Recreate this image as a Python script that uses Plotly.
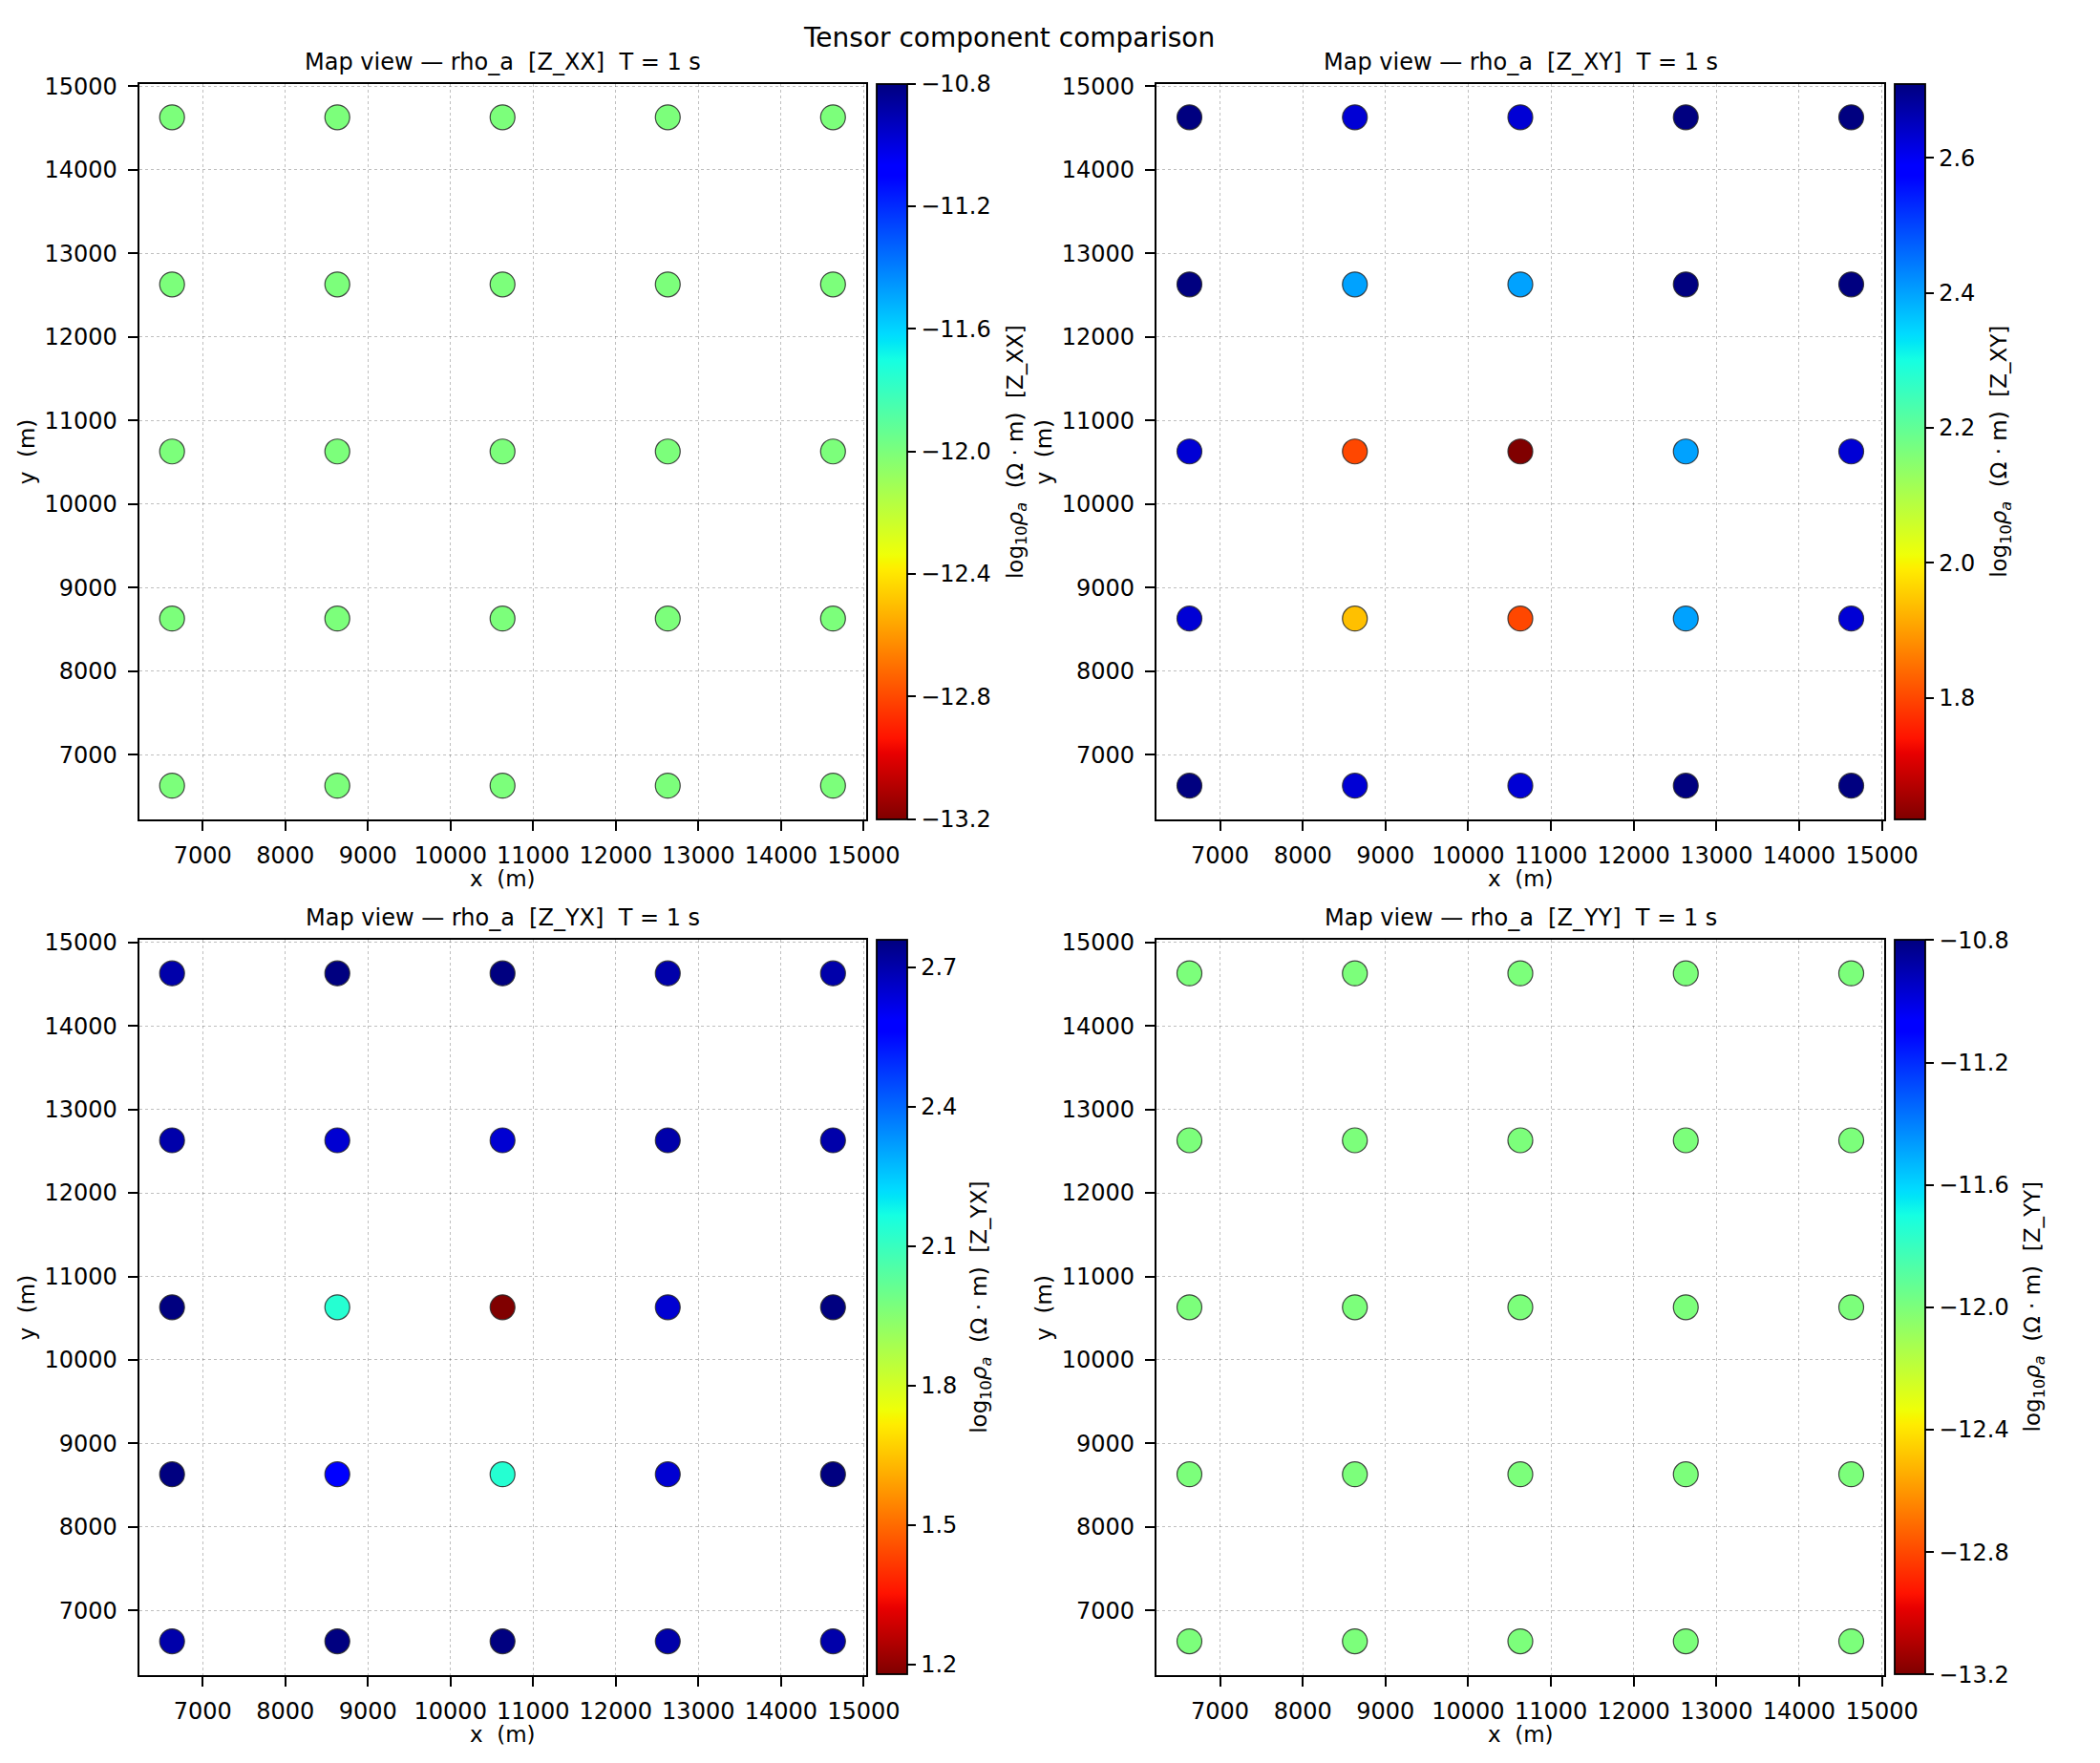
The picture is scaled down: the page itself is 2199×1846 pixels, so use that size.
import numpy as np
import plotly.graph_objects as go

# station grid (m)
x_stations = [6630, 8630, 10630, 12630, 14630]
y_stations = [6630, 8630, 10630, 12630, 14630]

# log10 rho_a at T = 1 s, one row per y station (south -> north)
rho_xx = [
    [-12.0, -12.0, -12.0, -12.0, -12.0],
    [-12.0, -12.0, -12.0, -12.0, -12.0],
    [-12.0, -12.0, -12.0, -12.0, -12.0],
    [-12.0, -12.0, -12.0, -12.0, -12.0],
    [-12.0, -12.0, -12.0, -12.0, -12.0],
]
rho_xy = [
    [2.71, 2.63, 2.63, 2.71, 2.71],
    [2.63, 1.94, 1.80, 2.40, 2.63],
    [2.63, 1.80, 1.62, 2.40, 2.63],
    [2.71, 2.40, 2.40, 2.71, 2.71],
    [2.71, 2.63, 2.63, 2.71, 2.71],
]
rho_yx = [
    [2.70, 2.758, 2.758, 2.70, 2.70],
    [2.758, 2.57, 2.135, 2.646, 2.758],
    [2.758, 2.135, 1.178, 2.646, 2.758],
    [2.70, 2.646, 2.646, 2.70, 2.70],
    [2.70, 2.758, 2.758, 2.70, 2.70],
]
rho_yy = [
    [-12.0, -12.0, -12.0, -12.0, -12.0],
    [-12.0, -12.0, -12.0, -12.0, -12.0],
    [-12.0, -12.0, -12.0, -12.0, -12.0],
    [-12.0, -12.0, -12.0, -12.0, -12.0],
    [-12.0, -12.0, -12.0, -12.0, -12.0],
]

components = ["Z_XX", "Z_XY", "Z_YX", "Z_YY"]
cb_ticks = {
    "Z_XX": [-13.2, -12.8, -12.4, -12.0, -11.6, -11.2, -10.8],
    "Z_XY": [1.8, 2.0, 2.2, 2.4, 2.6],
    "Z_YX": [1.2, 1.5, 1.8, 2.1, 2.4, 2.7],
    "Z_YY": [-13.2, -12.8, -12.4, -12.0, -11.6, -11.2, -10.8],
}
axis_ticks = [7000, 8000, 9000, 10000, 11000, 12000, 13000, 14000, 15000]

W, H = 2199, 1846
FONT = "DejaVu Sans"


def jet_r():
    # matplotlib 'jet' segment data, reversed
    red = [(0, 0), (0.35, 0), (0.66, 1), (0.89, 1), (1, 0.5)]
    green = [(0, 0), (0.125, 0), (0.375, 1), (0.64, 1), (0.91, 0), (1, 0)]
    blue = [(0, 0.5), (0.11, 1), (0.34, 1), (0.65, 0), (1, 0)]
    stops = sorted(set(p for seg in (red, green, blue) for p, _ in seg))
    scale = []
    for s in stops:
        rgb = [np.interp(s, [p for p, _ in seg], [v for _, v in seg]) for seg in (red, green, blue)]
        col = "rgb(%d,%d,%d)" % tuple(int(round(c * 255)) for c in rgb)
        scale.append([1 - s, col])
    return sorted(scale, key=lambda e: e[0])


def px_x(px):
    return px / W


def px_y(py):
    return 1 - py / H


# panel boxes in pixels: (left, right, top, bottom), colorbar left, colorbar label x
panels = [
    (148, 922, 77.3, 851.7, 933.5, 1082),
    (1231, 2006, 77.3, 851.7, 2017.5, 2130),
    (148, 922, 979, 1753, 933.5, 1044),
    (1231, 2006, 979, 1753, 2017.5, 2165),
]
values = [rho_xx, rho_xy, rho_yx, rho_yy]

gx, gy = np.meshgrid(x_stations, y_stations)

fig = go.Figure()
annotations = []
layout_axes = {}
scale = jet_r()

for i, (comp, vals, box) in enumerate(zip(components, values, panels)):
    left, right, top, bottom, cb_left, cb_lab = box
    v = np.array(vals, dtype=float)
    vmin, vmax = v.min(), v.max()
    if vmin == vmax:
        vmin, vmax = vmin - 0.1 * abs(vmin), vmax + 0.1 * abs(vmax)
    n = "" if i == 0 else str(i + 1)
    ticks = cb_ticks[comp]
    fig.add_trace(go.Scatter(
        x=gx.ravel(), y=gy.ravel(),
        xaxis="x" + n, yaxis="y" + n,
        mode="markers",
        showlegend=False,
        marker=dict(
            size=26,
            color=v.ravel(),
            colorscale=scale,
            cmin=vmin, cmax=vmax,
            line=dict(color="rgba(40,40,40,0.85)", width=1.2),
            colorbar=dict(
                x=px_x(cb_left), xanchor="left",
                y=px_y((top + bottom) / 2), yanchor="middle",
                len=(bottom - top) / H, lenmode="fraction",
                thickness=32, thicknessmode="pixels",
                xpad=0, ypad=0,
                outlinewidth=1.8, outlinecolor="black",
                ticks="outside", ticklen=9, tickwidth=1.8, tickcolor="black",
                tickvals=ticks,
                ticktext=[f"{t:.1f}".replace("-", "\u2212") for t in ticks],
                tickfont=dict(size=24, family=FONT, color="black"),
            ),
        ),
    ))

    common = dict(
        range=[6230, 15030],
        tickvals=axis_ticks,
        ticktext=[str(t) for t in axis_ticks],
        showline=True, linecolor="black", linewidth=2, mirror=True,
        ticks="outside", ticklen=10, tickwidth=2, tickcolor="black",
        showgrid=True, gridcolor="rgba(0,0,0,0.25)", gridwidth=1, griddash="dot",
        zeroline=False,
        tickfont=dict(size=24, family=FONT, color="black"),
        ticklabelstandoff=6,
    )
    layout_axes["xaxis" + n] = dict(common, domain=[px_x(left), px_x(right)], anchor="y" + n)
    layout_axes["yaxis" + n] = dict(common, domain=[px_y(bottom), px_y(top)], anchor="x" + n)

    cx = (left + right) / 2
    cy = (top + bottom) / 2
    annotations.append(dict(
        text=f"Map view \u2014 rho_a \u00a0[{comp}] \u00a0T = 1 s",
        x=px_x(cx), y=px_y(top - 23), xanchor="center", yanchor="middle",
        font=dict(size=24, family=FONT),
    ))
    annotations.append(dict(
        text="x \u00a0(m)", x=px_x(cx), y=px_y(bottom + 63), xanchor="center", yanchor="middle",
        font=dict(size=23, family=FONT),
    ))
    annotations.append(dict(
        text="y \u00a0(m)", x=px_x(left - 120), y=px_y(cy), xanchor="center", yanchor="middle",
        textangle=-90, font=dict(size=23, family=FONT),
    ))
    annotations.append(dict(
        text=f"log<sub>10</sub><i>\u03c1</i><sub><i>a</i></sub> \u00a0(\u03a9 \u00b7 m) \u00a0[{comp}]",
        x=px_x(cb_lab), y=px_y(cy), xanchor="center", yanchor="middle",
        textangle=-90, font=dict(size=23, family=FONT),
    ))

annotations.append(dict(
    text="Tensor component comparison",
    x=px_x(1074), y=px_y(29), xanchor="center", yanchor="middle",
    font=dict(size=28, family=FONT),
))

for a in annotations:
    a.update(xref="paper", yref="paper", showarrow=False)
    a["font"]["color"] = "black"

fig.update_layout(
    width=W, height=H, autosize=False,
    margin=dict(l=0, r=0, t=0, b=0),
    paper_bgcolor="white", plot_bgcolor="white",
    font=dict(family=FONT, color="black"),
    annotations=annotations,
    **layout_axes,
)

fig.write_html(
    "out.html",
    config={"displayModeBar": False, "responsive": False},
    post_script="document.body.style.margin='0px';document.body.style.overflow='hidden';",
)
